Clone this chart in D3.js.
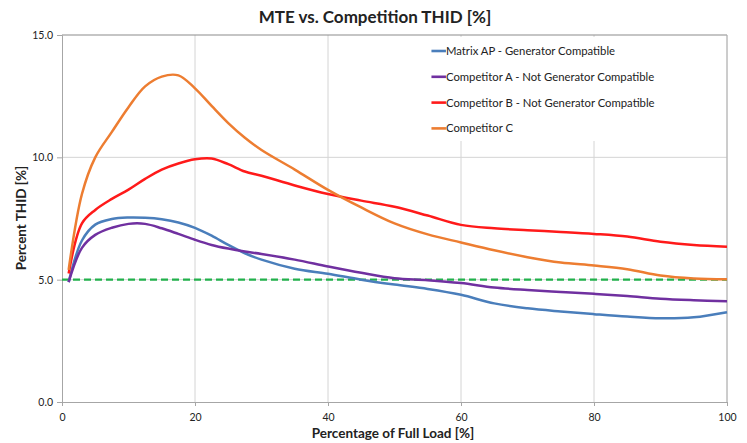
<!DOCTYPE html>
<html>
<head>
<meta charset="utf-8">
<script src="https://cdn.jsdelivr.net/npm/d3@7"></script>
<style>
  body { margin: 0; background: #fff; }
  text { font-family: Lato, 'Open Sans', sans-serif; fill: #222; }
</style>
</head>
<body>
<script>
const loads = [1, 3, 5, 7.5, 10, 12.5, 15, 17.5, 20, 22.5, 25, 27.5, 30, 35, 40, 45, 50, 55, 60, 65, 70, 75, 80, 85, 90, 95, 100]

const matrixAP = [4.9, 6.6, 7.25, 7.48, 7.54, 7.53, 7.47, 7.34, 7.12, 6.8, 6.42, 6.08, 5.82, 5.45, 5.24, 5.0, 4.8, 4.62, 4.38, 4.03, 3.83, 3.7, 3.59, 3.49, 3.42, 3.46, 3.67]
const competitorA = [4.9, 6.3, 6.83, 7.12, 7.28, 7.28, 7.1, 6.87, 6.63, 6.42, 6.27, 6.15, 6.05, 5.82, 5.54, 5.28, 5.06, 4.98, 4.86, 4.68, 4.58, 4.5, 4.42, 4.33, 4.22, 4.16, 4.12]
const competitorB = [5.25, 7.3, 7.85, 8.3, 8.68, 9.12, 9.5, 9.75, 9.92, 9.95, 9.72, 9.42, 9.25, 8.85, 8.5, 8.23, 7.98, 7.62, 7.24, 7.1, 7.02, 6.95, 6.87, 6.76, 6.55, 6.42, 6.35]
const competitorC = [5.4, 8.5, 10.0, 11.04, 12.05, 12.9, 13.3, 13.35, 12.82, 12.1, 11.4, 10.8, 10.3, 9.5, 8.67, 7.95, 7.3, 6.85, 6.52, 6.2, 5.92, 5.7, 5.58, 5.43, 5.17, 5.05, 5.02]

const limit = 5.0
const seriesNames = ['Matrix AP - Generator Compatible', 'Competitor A - Not Generator Compatible', 'Competitor B - Not Generator Compatible', 'Competitor C']
const seriesColors = ['#4a7ebb', '#7030a0', '#ff1a1a', '#ed7d31']
const seriesValues = [matrixAP, competitorA, competitorB, competitorC]
const xTicks = [0, 20, 40, 60, 80, 100]
const yTicks = [0, 5, 10, 15]

const width = 747
const height = 443
const margin = { top: 35, right: 20, bottom: 41, left: 62 }
const innerW = width - margin.left - margin.right
const innerH = height - margin.top - margin.bottom

const svg = d3.select('body').append('svg')
    .attr('width', width)
    .attr('height', height)

const g = svg.append('g')
    .attr('transform', `translate(${margin.left},${margin.top})`)

const x = d3.scaleLinear().domain([0, 100]).range([0, innerW])
const y = d3.scaleLinear().domain([0, 15]).range([innerH, 0])

// gridlines
g.selectAll('line.vgrid')
    .data(xTicks.slice(1))
    .enter().append('line')
    .attr('x1', d => x(d)).attr('x2', d => x(d))
    .attr('y1', 0).attr('y2', innerH)
    .attr('stroke', '#d4d4d4')
    .attr('stroke-width', 1)

g.selectAll('line.hgrid')
    .data(yTicks.slice(1, -1))
    .enter().append('line')
    .attr('x1', 0).attr('x2', innerW)
    .attr('y1', d => y(d)).attr('y2', d => y(d))
    .attr('stroke', '#d4d4d4')
    .attr('stroke-width', 1)

// border top and right
g.append('line').attr('x1', 0).attr('x2', innerW).attr('y1', 0).attr('y2', 0)
    .attr('stroke', '#8c8c8c').attr('stroke-width', 1.2)
g.append('line').attr('x1', innerW).attr('x2', innerW).attr('y1', 0).attr('y2', innerH)
    .attr('stroke', '#b0b0b0').attr('stroke-width', 1)

// axes
const xAxis = g.append('g')
    .attr('transform', `translate(0,${innerH})`)
    .call(d3.axisBottom(x).tickValues(xTicks).tickSize(4).tickFormat(d3.format('d')))
const yAxis = g.append('g')
    .call(d3.axisLeft(y).tickValues(yTicks).tickSize(5).tickFormat(d3.format('.1f')))

;[xAxis, yAxis].forEach(a => {
    a.select('.domain').attr('stroke', '#a6a6a6')
    a.selectAll('.tick line').attr('stroke', '#a6a6a6')
    a.selectAll('.tick text')
        .style('font-family', 'Lato, sans-serif')
        .style('font-size', '10.5px')
        .attr('fill', '#333')
})
xAxis.selectAll('.tick text').attr('dy', '1.1em')
yAxis.selectAll('.tick text').attr('x', -9)

// legend box (white, hides gridlines behind it)
const legend = g.append('g').attr('transform', `translate(${x(53)},${2})`)
legend.append('rect')
    .attr('width', x(99.5) - x(53)).attr('height', 104)
    .attr('fill', '#fff')

const line = d3.line()
    .x((d, i) => x(loads[i]))
    .y(d => y(d))
    .curve(d3.curveCatmullRom.alpha(0.5))

// threshold
g.append('line')
    .attr('x1', x(0)).attr('x2', x(100))
    .attr('y1', y(limit)).attr('y2', y(limit))
    .attr('stroke', '#22b14c')
    .attr('stroke-width', 2.2)
    .attr('stroke-dasharray', '7,4')

g.selectAll('path.series')
    .data(seriesValues)
    .enter().append('path')
    .attr('class', 'series')
    .attr('d', d => line(d))
    .attr('fill', 'none')
    .attr('stroke', (d, i) => seriesColors[i])
    .attr('stroke-width', 2.5)
    .attr('stroke-linejoin', 'round')

const items = legend.selectAll('g.item')
    .data(seriesNames)
    .enter().append('g')
    .attr('transform', (d, i) => `translate(0,${14 + i * 25.8})`)
items.append('line')
    .attr('x1', 17).attr('x2', 31.5)
    .attr('stroke', (d, i) => seriesColors[i])
    .attr('stroke-width', 2.6)
items.append('text')
    .attr('x', 31.5).attr('dy', '0.35em')
    .style('font-size', '11.3px')
    .text(d => d)

// titles
svg.append('text')
    .attr('x', 375).attr('y', 23)
    .attr('text-anchor', 'middle')
    .style('font-size', '17px').style('font-weight', 'bold')
    .text('MTE vs. Competition THID [%]')

svg.append('text')
    .attr('x', 393).attr('y', 438)
    .attr('text-anchor', 'middle')
    .style('font-size', '13.5px').style('font-weight', 'bold')
    .text('Percentage of Full Load [%]')

svg.append('text')
    .attr('transform', `translate(26,${218}) rotate(-90)`)
    .attr('text-anchor', 'middle')
    .style('font-size', '13.5px').style('font-weight', 'bold')
    .text('Percent THID [%]')
</script>
</body>
</html>
